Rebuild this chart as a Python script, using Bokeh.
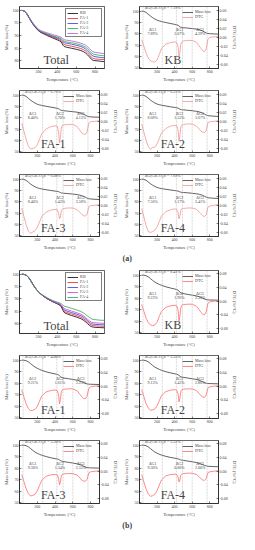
from bokeh.plotting import figure
from bokeh.models import (Range1d, LinearAxis, FixedTicker, PrintfTickFormatter, Span,
                          Label, Legend, LegendItem)
from bokeh.layouts import column, row
from bokeh.embed import file_html
from bokeh.resources import INLINE

FONT = "Liberation Serif"

SAMPLES = ["KB", "FA-1", "FA-2", "FA-3", "FA-4"]
TEMP = [25, 50, 75, 100, 125, 150, 175, 200, 225, 250, 300, 350, 400, 425, 440, 450,
        460, 470, 480, 500, 550, 600, 650, 680, 700, 720, 740, 760, 780, 800, 850, 900]

# ---------------- group (a) ----------------
MASS_A_KB = [100, 99.7, 98.8, 97.2, 95.6, 94.2, 93.0, 92.0, 91.3, 90.8, 89.9, 89.1, 88.3, 87.9, 87.5, 86.9,
             86.2, 85.8, 85.6, 85.4, 85.0, 84.6, 84.1, 83.6, 83.1, 82.4, 81.6, 80.7, 80.2, 80.1, 79.9, 79.7]
MASS_A_FA1 = [100, 99.7, 98.8, 97.1, 95.5, 94.1, 92.9, 91.9, 91.3, 90.9, 90.1, 89.4, 88.7, 88.3, 88.0, 87.5,
              86.9, 86.6, 86.4, 86.2, 85.8, 85.4, 84.9, 84.4, 83.9, 83.2, 82.4, 81.5, 81.0, 80.8, 80.6, 80.5]
MASS_A_FA2 = [100, 99.7, 98.8, 97.2, 95.6, 94.2, 93.0, 92.1, 91.5, 91.1, 90.4, 89.7, 89.1, 88.8, 88.5, 88.1,
              87.6, 87.3, 87.1, 87.0, 86.6, 86.2, 85.7, 85.2, 84.7, 84.0, 83.3, 82.4, 81.9, 81.7, 81.4, 81.2]
MASS_A_FA3 = [100, 99.7, 98.8, 97.2, 95.6, 94.3, 93.2, 92.3, 91.7, 91.3, 90.6, 90.0, 89.4, 89.1, 88.9, 88.5,
              88.1, 87.8, 87.7, 87.5, 87.2, 86.8, 86.3, 85.8, 85.4, 84.8, 84.1, 83.2, 82.7, 82.5, 82.2, 82.0]
MASS_A_FA4 = [100, 99.7, 98.9, 97.4, 95.9, 94.6, 93.5, 92.6, 92.0, 91.6, 91.0, 90.4, 89.9, 89.6, 89.4, 89.1,
              88.7, 88.5, 88.3, 88.2, 87.9, 87.5, 87.0, 86.6, 86.2, 85.6, 84.9, 84.1, 83.6, 83.4, 83.1, 82.9]

DTG_A_KB = [-0.005, -0.020, -0.035, -0.046, -0.052, -0.054, -0.055, -0.050, -0.038, -0.025, -0.015, -0.012,
            -0.010, -0.012, -0.022, -0.042, -0.034, -0.016, -0.011, -0.008, -0.007, -0.007, -0.011, -0.019,
            -0.025, -0.030, -0.032, -0.026, -0.004, 0.000, 0.001, 0.002]
DTG_A_FA1 = [-0.004, -0.022, -0.040, -0.055, -0.061, -0.060, -0.058, -0.052, -0.040, -0.028, -0.017, -0.012,
             -0.010, -0.011, -0.024, -0.048, -0.036, -0.015, -0.010, -0.008, -0.007, -0.007, -0.012, -0.020,
             -0.026, -0.028, -0.029, -0.024, -0.004, -0.001, 0.000, 0.001]
DTG_A_FA2 = [-0.006, -0.024, -0.042, -0.056, -0.062, -0.058, -0.057, -0.050, -0.038, -0.026, -0.016, -0.011,
             -0.009, -0.010, -0.020, -0.044, -0.030, -0.013, -0.009, -0.007, -0.006, -0.006, -0.011, -0.017,
             -0.022, -0.024, -0.025, -0.021, -0.003, -0.001, 0.000, 0.001]
DTG_A_FA3 = [-0.006, -0.025, -0.043, -0.057, -0.062, -0.059, -0.056, -0.049, -0.037, -0.025, -0.015, -0.011,
             -0.009, -0.010, -0.018, -0.030, -0.026, -0.012, -0.009, -0.007, -0.006, -0.006, -0.010, -0.016,
             -0.020, -0.023, -0.024, -0.020, -0.003, -0.001, 0.000, 0.001]
DTG_A_FA4 = [-0.007, -0.026, -0.045, -0.058, -0.060, -0.058, -0.055, -0.048, -0.036, -0.024, -0.014, -0.010,
             -0.008, -0.009, -0.017, -0.030, -0.024, -0.011, -0.008, -0.007, -0.006, -0.006, -0.009, -0.015,
             -0.019, -0.023, -0.025, -0.021, -0.004, -0.002, 0.000, 0.001]

CACO3_A = ["7.19%", "6.76%", "6.25%", "6.08%", "7.69%"]
DG1_A = ["7.89%", "8.40%", "8.68%", "8.40%", "7.56%"]
DG2_A = ["2.07%", "1.70%", "1.53%", "1.43%", "1.17%"]
DG3_A = ["4.39%", "4.13%", "3.67%", "3.58%", "3.41%"]

# ---------------- group (b) ----------------
MASS_B_KB = [100, 99.9, 99.5, 98.5, 97.0, 95.4, 94.0, 92.9, 92.0, 91.2, 89.9, 88.9, 88.0, 87.5, 86.9, 86.2,
             85.4, 84.7, 84.3, 84.0, 83.3, 82.7, 82.0, 81.3, 80.7, 80.0, 79.3, 78.8, 78.6, 78.5, 78.4, 78.3]
MASS_B_FA1 = [100, 99.9, 99.5, 98.5, 97.0, 95.4, 94.0, 92.9, 92.0, 91.2, 89.9, 88.9, 88.1, 87.6, 87.1, 86.5,
              85.8, 85.2, 84.8, 84.5, 83.9, 83.3, 82.6, 81.9, 81.3, 80.6, 79.9, 79.4, 79.2, 79.1, 79.0, 78.9]
MASS_B_FA2 = [100, 99.9, 99.5, 98.5, 97.0, 95.4, 94.0, 92.9, 92.0, 91.2, 90.0, 89.0, 88.2, 87.8, 87.3, 86.8,
              86.2, 85.7, 85.4, 85.1, 84.5, 83.9, 83.2, 82.5, 81.9, 81.2, 80.5, 80.0, 79.8, 79.7, 79.6, 79.5]
MASS_B_FA3 = [100, 99.9, 99.5, 98.5, 97.0, 95.4, 94.0, 92.9, 92.0, 91.3, 90.1, 89.1, 88.3, 88.0, 87.6, 87.2,
              86.7, 86.3, 86.0, 85.7, 85.1, 84.5, 83.8, 83.1, 82.5, 81.8, 81.1, 80.6, 80.4, 80.3, 80.2, 80.1]
MASS_B_FA4 = [100, 99.9, 99.5, 98.5, 97.0, 95.4, 94.0, 93.0, 92.1, 91.4, 90.3, 89.4, 88.7, 88.4, 88.1, 87.8,
              87.5, 87.2, 87.0, 86.8, 86.2, 85.6, 84.9, 84.3, 83.7, 83.1, 82.5, 82.0, 81.7, 81.6, 81.4, 81.3]

DTG_B_KB = [-0.010, -0.030, -0.050, -0.063, -0.070, -0.072, -0.070, -0.062, -0.045, -0.030, -0.018, -0.014,
            -0.012, -0.014, -0.028, -0.058, -0.045, -0.020, -0.013, -0.010, -0.009, -0.009, -0.015, -0.025,
            -0.033, -0.038, -0.040, -0.032, -0.006, -0.002, 0.000, 0.001]
DTG_B_FA1 = [-0.010, -0.032, -0.052, -0.066, -0.072, -0.071, -0.068, -0.060, -0.044, -0.029, -0.017, -0.013,
             -0.011, -0.013, -0.026, -0.052, -0.040, -0.018, -0.012, -0.009, -0.008, -0.008, -0.014, -0.024,
             -0.031, -0.036, -0.037, -0.030, -0.006, -0.002, 0.000, 0.001]
DTG_B_FA2 = [-0.010, -0.031, -0.051, -0.064, -0.071, -0.070, -0.067, -0.058, -0.043, -0.028, -0.016, -0.012,
             -0.010, -0.012, -0.024, -0.046, -0.036, -0.016, -0.011, -0.009, -0.008, -0.008, -0.013, -0.022,
             -0.028, -0.032, -0.033, -0.026, -0.005, -0.002, 0.000, 0.001]
DTG_B_FA3 = [-0.010, -0.031, -0.052, -0.066, -0.073, -0.071, -0.068, -0.058, -0.042, -0.027, -0.015, -0.011,
             -0.010, -0.011, -0.022, -0.040, -0.032, -0.015, -0.010, -0.008, -0.007, -0.007, -0.012, -0.020,
             -0.026, -0.029, -0.030, -0.024, -0.005, -0.002, 0.000, 0.001]
DTG_B_FA4 = [-0.010, -0.032, -0.053, -0.067, -0.074, -0.072, -0.068, -0.057, -0.041, -0.026, -0.014, -0.010,
             -0.009, -0.010, -0.018, -0.032, -0.026, -0.012, -0.009, -0.007, -0.006, -0.006, -0.010, -0.017,
             -0.022, -0.026, -0.027, -0.022, -0.004, -0.002, 0.000, 0.001]

CACO3_B = ["8.41%", "4.00%", "5.55%", "5.20%", "3.32%"]
DG1_B = ["9.23%", "9.21%", "9.13%", "9.30%", "9.30%"]
DG2_B = ["1.96%", "1.61%", "1.43%", "1.34%", "0.80%"]
DG3_B = ["3.33%", "3.23%", "2.86%", "2.55%", "2.00%"]

STEP_BOUNDS = [40, 260, 420, 490, 600, 770]

COLORS_A = ["black", "#e8242c", "#2a3fd6", "#2aa84a", "#b05cc8"]
COLORS_B = ["black", "#e8242c", "#2a3fd6", "#d63ad6", "#2aa84a"]


def style_axis(ax, label):
    ax.axis_label = label
    ax.axis_label_text_font = FONT
    ax.axis_label_text_font_size = "4.5px"
    ax.axis_label_text_font_style = "normal"
    ax.axis_label_standoff = 1
    ax.major_label_text_font = FONT
    ax.major_label_text_font_size = "4px"
    ax.major_label_standoff = 1
    ax.major_tick_in = 2
    ax.major_tick_out = 0
    ax.minor_tick_in = 1
    ax.minor_tick_out = 0
    ax.axis_line_width = 0.5
    ax.major_tick_line_width = 0.5
    ax.minor_tick_line_width = 0.4


def base_fig(w, h, yr, left_b, right_b):
    p = figure(width=w, height=h, x_range=Range1d(0, 900), y_range=Range1d(*yr),
               output_backend="svg", toolbar_location=None,
               min_border_left=left_b, min_border_right=right_b,
               min_border_top=6, min_border_bottom=11)
    p.grid.visible = False
    p.outline_line_color = "black"
    p.outline_line_width = 0.6
    p.xaxis.ticker = FixedTicker(ticks=[200, 400, 600, 800])
    style_axis(p.xaxis[0], "Temperature (°C)")
    return p


def legend_style(lg):
    lg.label_text_font = FONT
    lg.label_text_font_size = "4px"
    lg.glyph_height = 4
    lg.glyph_width = 11
    lg.label_height = 4
    lg.label_standoff = 2
    lg.spacing = 0
    lg.padding = 1
    lg.margin = 2
    lg.border_line_width = 0.4
    lg.border_line_color = "black"
    lg.background_fill_alpha = 1.0


def total_panel(w, h, masses, colors, yr, yticks, left_b, right_b):
    p = base_fig(w, h, yr, left_b, right_b)
    p.yaxis.ticker = FixedTicker(ticks=yticks)
    style_axis(p.yaxis[0], "Mass loss (%)")
    items = []
    for name, m, c in zip(SAMPLES, masses, colors):
        r = p.line(TEMP, m, line_color=c, line_width=0.8)
        items.append(LegendItem(label=name, renderers=[r]))
    lg = Legend(items=items, location="top_right")
    legend_style(lg)
    p.add_layout(lg)
    p.add_layout(Label(x=390, y=yr[0] + 0.4, text="Total", text_font=FONT,
                       text_font_size="12.5px", text_align="center", text_baseline="bottom"))
    return p


def indiv_panel(w, h, name, mass, dtg, caco3, g1, g2, g3, dtg_range, dtg_ticks,
                dtg_color, left_b, right_b):
    p = base_fig(w, h, (49.5, 104), left_b, right_b)
    p.yaxis.ticker = FixedTicker(ticks=[50, 60, 70, 80, 90, 100])
    style_axis(p.yaxis[0], "Mass loss (%)")
    p.extra_y_ranges = {"dtg": Range1d(*dtg_range)}
    rax = LinearAxis(y_range_name="dtg", ticker=FixedTicker(ticks=dtg_ticks),
                     formatter=PrintfTickFormatter(format="%.2f"))
    style_axis(rax, "DTG (%/°C)")
    p.add_layout(rax, "right")
    for b in STEP_BOUNDS:
        p.add_layout(Span(location=b, dimension="height", line_color="#b0b0b0",
                          line_width=0.5, line_dash="2 1"))
    r1 = p.line(TEMP, mass, line_color="#3a3a3a", line_width=0.8)
    r2 = p.line(TEMP, dtg, line_color=dtg_color, line_width=0.8, y_range_name="dtg")
    lg = Legend(items=[LegendItem(label="Mass loss", renderers=[r1]),
                       LegendItem(label="DTG", renderers=[r2])], location="top_right")
    legend_style(lg)
    lg.border_line_alpha = 0
    lg.background_fill_alpha = 0
    p.add_layout(lg)
    kw = dict(text_font=FONT, text_font_size="4px", text_align="center")
    p.add_layout(Label(x=60, y=100.8, text="ΔG(CaCO₃)c = " + caco3, text_font=FONT,
                       text_font_size="4px", text_align="left"))
    for xx, lab, val in ((150, "ΔG1", g1), (455, "ΔG2", g2), (690, "ΔG3", g3)):
        p.add_layout(Label(x=xx, y=82, text=lab, **kw))
        p.add_layout(Label(x=xx, y=78.5, text=val, **kw))
    p.add_layout(Label(x=380, y=50.5, text=name, text_font=FONT, text_font_size="12px",
                       text_align="center", text_baseline="bottom"))
    return p


def group(masses, dtgs, caco3, g1, g2, g3, colors, tot_yr, tot_ticks, dtg_range, dtg_ticks, dtg_color, H):
    figs = [total_panel(120, H, masses, colors, tot_yr, tot_ticks, 17, 16)]
    for i in range(5):
        left = (i % 2 == 1)
        figs.append(indiv_panel(120 if left else 119, H, SAMPLES[i], masses[i], dtgs[i],
                                caco3[i], g1[i], g2[i], g3[i], dtg_range, dtg_ticks, dtg_color,
                                17 if left else 11, 16 if left else 19))
    return [row(figs[0], figs[1]), row(figs[2], figs[3]), row(figs[4], figs[5])]


def tag(t):
    p = figure(width=239, height=12, x_range=Range1d(0, 1), y_range=Range1d(0, 1),
               output_backend="svg", toolbar_location=None,
               min_border=0, min_border_left=0, min_border_right=0,
               min_border_top=0, min_border_bottom=0)
    p.axis.visible = False
    p.grid.visible = False
    p.outline_line_color = None
    p.add_layout(Label(x=0.53, y=0.5, text=t, text_font=FONT, text_font_size="8px",
                       text_font_style="bold", text_align="center", text_baseline="middle"))
    return p


rows_a = group([MASS_A_KB, MASS_A_FA1, MASS_A_FA2, MASS_A_FA3, MASS_A_FA4],
               [DTG_A_KB, DTG_A_FA1, DTG_A_FA2, DTG_A_FA3, DTG_A_FA4],
               CACO3_A, DG1_A, DG2_A, DG3_A, COLORS_A, (77, 101.5), [80, 85, 90, 95, 100],
               (-0.069, 0.068), [-0.06, -0.04, -0.02, 0.0, 0.02, 0.04, 0.06], "#f29494", 84)
rows_b = group([MASS_B_KB, MASS_B_FA1, MASS_B_FA2, MASS_B_FA3, MASS_B_FA4],
               [DTG_B_KB, DTG_B_FA1, DTG_B_FA2, DTG_B_FA3, DTG_B_FA4],
               CACO3_B, DG1_B, DG2_B, DG3_B, COLORS_B, (76, 101.5), [80, 85, 90, 95, 100],
               (-0.095, 0.09), [-0.08, -0.04, 0.0, 0.04, 0.08], "#ff6b6b", 85)

layout = column(*rows_a, tag("(a)"), *rows_b, tag("(b)"))
open("out.html", "w").write(file_html(layout, INLINE))
